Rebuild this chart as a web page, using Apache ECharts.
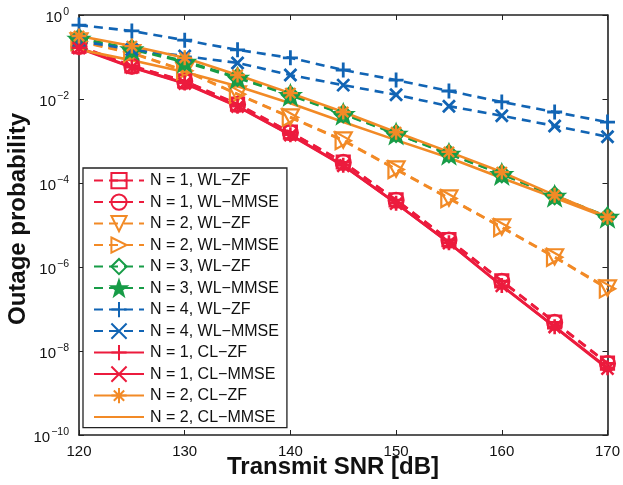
<!DOCTYPE html>
<html>
<head>
<meta charset="utf-8">
<script src="https://cdn.jsdelivr.net/npm/echarts@6/dist/echarts.min.js"></script>
<style>
  html, body { margin: 0; padding: 0; background: #fff; }
  #chart { width: 623px; height: 485px; }
</style>
</head>
<body>
<div id="chart"></div>
<script>
// Transmit SNR grid (dB)
const snr = [120, 125, 130, 135, 140, 145, 150, 155, 160, 165, 170];

// Outage probability per scheme
const n1WlZf   = [1.82e-1, 6.17e-2, 2.69e-2, 7.59e-3, 1.62e-3, 3.16e-4, 3.98e-5, 4.47e-6, 4.68e-7, 4.90e-8, 5.13e-9];
const n1WlMmse = [1.78e-1, 6.03e-2, 2.63e-2, 7.41e-3, 1.58e-3, 3.09e-4, 3.89e-5, 4.37e-6, 4.57e-7, 4.79e-8, 5.01e-9];
const n2WlZf   = [2.40e-1, 1.26e-1, 4.79e-2, 1.32e-2, 3.72e-3, 1.05e-3, 2.14e-4, 4.37e-5, 8.91e-6, 1.74e-6, 3.16e-7];
const n2WlMmse = [2.34e-1, 1.23e-1, 4.68e-2, 1.29e-2, 3.63e-3, 1.02e-3, 2.09e-4, 4.27e-5, 8.71e-6, 1.70e-6, 3.02e-7];
const n3WlZf   = [2.82e-1, 1.58e-1, 7.94e-2, 3.31e-2, 1.26e-2, 4.47e-3, 1.51e-3, 5.01e-4, 1.66e-4, 5.01e-5, 1.58e-5];
const n3WlMmse = [2.69e-1, 1.51e-1, 7.59e-2, 3.16e-2, 1.23e-2, 4.37e-3, 1.48e-3, 4.90e-4, 1.62e-4, 4.90e-5, 1.55e-5];
const n4WlZf   = [5.75e-1, 4.17e-1, 2.51e-1, 1.48e-1, 9.55e-2, 4.90e-2, 2.82e-2, 1.55e-2, 8.51e-3, 4.90e-3, 2.82e-3];
const n4WlMmse = [2.40e-1, 1.51e-1, 1.05e-1, 7.24e-2, 3.72e-2, 2.14e-2, 1.26e-2, 6.76e-3, 3.98e-3, 2.29e-3, 1.26e-3];
const n1ClZf   = [1.66e-1, 5.75e-2, 2.40e-2, 6.76e-3, 1.41e-3, 2.63e-4, 3.31e-5, 3.80e-6, 3.63e-7, 3.80e-8, 3.98e-9];
const n1ClMmse = [1.62e-1, 5.62e-2, 2.34e-2, 6.61e-3, 1.38e-3, 2.57e-4, 3.24e-5, 3.72e-6, 3.55e-7, 3.72e-8, 3.80e-9];
const n2ClZf   = [3.16e-1, 1.82e-1, 9.55e-2, 3.72e-2, 1.38e-2, 4.90e-3, 1.62e-3, 5.50e-4, 1.82e-4, 5.13e-5, 1.55e-5];
const n2ClMmse = [1.51e-1, 8.32e-2, 4.37e-2, 2.00e-2, 7.94e-3, 2.82e-3, 1.05e-3, 3.98e-4, 1.32e-4, 4.47e-5, 1.48e-5];

// Axis ticks
const xTicks = [120, 130, 140, 150, 160, 170];
const yExponents = [0, -2, -4, -6, -8, -10];

const RED = '#ec1b3d', ORANGE = '#f28a26', GREEN = '#179c47', BLUE = '#1164b4';
const FONT = '"Liberation Sans", Arial, Helvetica, sans-serif';
const CLEAR = 'rgba(0,0,0,0)';

// Marker shapes
const SYM = {
  square: 'path://M0,0 L10,0 L10,10 L0,10 Z M0,5 L10,5',
  circle: 'path://M5,0 A5,5 0 1 1 4.99,0 Z M0,5 L10,5',
  triDown: 'path://M0,0 L10,0 L5,9 Z',
  triRight: 'path://M0,0 L9,5 L0,10 Z',
  diamond: 'path://M5,0 L10,5 L5,10 L0,5 Z',
  star: 'path://M5,0 L6.18,3.38 L9.76,3.45 L6.9,5.62 L7.94,9.05 L5,7 L2.06,9.05 L3.1,5.62 L0.24,3.45 L3.82,3.38 Z',
  plus: 'path://M5,0 L5,10 M0,5 L10,5',
  cross: 'path://M0,0 L10,10 M10,0 L0,10',
  asterisk: 'path://M5,0 L5,10 M0,5 L10,5 M1.6,1.6 L8.4,8.4 M8.4,1.6 L1.6,8.4'
};

function mk(name, data, color, dashed, symbol, size, filled, stroke) {
  return {
    name: name,
    type: 'line',
    data: snr.map((x, i) => [x, data[i]]),
    xAxisIndex: 0,
    yAxisIndex: 0,
    symbol: symbol ? SYM[symbol] : 'circle',
    symbolSize: size || 14,
    showSymbol: !!symbol,
    symbolKeepAspect: true,
    animation: false,
    lineStyle: { color: color, width: 2.6, type: dashed ? [9, 6] : 'solid' },
    itemStyle: {
      color: filled ? color : CLEAR,
      borderColor: symbol ? color : CLEAR,
      borderWidth: stroke || 2.2
    },
    emphasis: { disabled: true }
  };
}

const series = [
  mk('N = 1, WL\u2212ZF',   n1WlZf,   RED,    true,  'square',   13),
  mk('N = 1, WL\u2212MMSE', n1WlMmse, RED,    true,  'circle',   15),
  mk('N = 2, WL\u2212ZF',   n2WlZf,   ORANGE, true,  'triDown',  17),
  mk('N = 2, WL\u2212MMSE', n2WlMmse, ORANGE, true,  'triRight', 17),
  mk('N = 3, WL\u2212ZF',   n3WlZf,   GREEN,  true,  'diamond',  17),
  mk('N = 3, WL\u2212MMSE', n3WlMmse, GREEN,  true,  'star',     19, true),
  mk('N = 4, WL\u2212ZF',   n4WlZf,   BLUE,   true,  'plus',     15, false, 2.8),
  mk('N = 4, WL\u2212MMSE', n4WlMmse, BLUE,   true,  'cross',    12, false, 2.8),
  mk('N = 1, CL\u2212ZF',   n1ClZf,   RED,    false, 'plus',     15, false, 2.6),
  mk('N = 1, CL\u2212MMSE', n1ClMmse, RED,    false, 'cross',    12, false, 2.6),
  mk('N = 2, CL\u2212ZF',   n2ClZf,   ORANGE, false, 'asterisk', 15, false, 2.4),
  mk('N = 2, CL\u2212MMSE', n2ClMmse, ORANGE, false, null)
];

const axisLineStyle = { color: '#222', width: 1.6 };
const baseX = {
  type: 'value', min: 120, max: 170, interval: 10,
  axisLine: { show: true, onZero: false, lineStyle: axisLineStyle },
  axisTick: { show: true, inside: true, length: 5, lineStyle: { color: '#222', width: 1 } },
  splitLine: { show: false }
};
const baseY = {
  type: 'log', logBase: 10, min: 1e-10, max: 1, interval: 2,
  axisLine: { show: true, onZero: false, lineStyle: axisLineStyle },
  axisTick: { show: true, inside: true, length: 5, lineStyle: { color: '#222', width: 1 } },
  splitLine: { show: false },
  minorTick: { show: false }
};

const chart = echarts.init(document.getElementById('chart'), null, { renderer: 'canvas' });
chart.setOption({
  backgroundColor: '#fff',
  animation: false,
  textStyle: { fontFamily: FONT },
  grid: { left: 79, top: 15, right: 13, bottom: 50, containLabel: false },
  xAxis: [
    Object.assign({}, baseX, {
      position: 'bottom',
      axisLabel: {
        show: true, margin: 9, color: '#111', fontSize: 15, fontFamily: FONT,
        formatter: v => (xTicks.indexOf(v) >= 0 ? String(v) : '')
      }
    }),
    Object.assign({}, baseX, { position: 'top', axisLabel: { show: false } })
  ],
  yAxis: [
    Object.assign({}, baseY, {
      position: 'left',
      axisLabel: {
        show: true, margin: 10, color: '#111', fontFamily: FONT,
        formatter: v => {
          const e = Math.round(Math.log10(v));
          if (yExponents.indexOf(e) < 0) return '';
          return '{b|10}{e|' + (e < 0 ? '\u2212' + (-e) : e) + '}';
        },
        rich: {
          b: { fontSize: 15, fontFamily: FONT, color: '#111', padding: [6, 0, 0, 0] },
          e: { fontSize: 10.5, fontFamily: FONT, color: '#111', padding: [0, 0, 6, 1] }
        }
      }
    }),
    Object.assign({}, baseY, { position: 'right', axisLabel: { show: false } })
  ],
  legend: {
    show: true,
    orient: 'vertical',
    left: 83, top: 168,
    width: 202,
    padding: [4, 8, 2, 10],
    itemWidth: 50, itemHeight: 19, itemGap: 4.3,
    backgroundColor: '#fff',
    borderColor: '#222', borderWidth: 1.3,
    textStyle: { fontSize: 16, color: '#111', fontFamily: FONT, padding: [0, 0, 0, 1] },
    selectedMode: false,
    data: series.map(s => s.name)
  },
  graphic: [
    {
      type: 'text', x: 333, y: 455,
      style: { text: 'Transmit SNR [dB]', font: 'bold 24px ' + FONT, fill: '#111', textAlign: 'center' }
    },
    {
      type: 'text', x: 6, y: 219, rotation: Math.PI / 2,
      style: {
        text: 'Outage probability', font: 'bold 24px ' + FONT, fill: '#111',
        textAlign: 'center', textVerticalAlign: 'top'
      }
    }
  ],
  series: series
});
</script>
</body>
</html>
